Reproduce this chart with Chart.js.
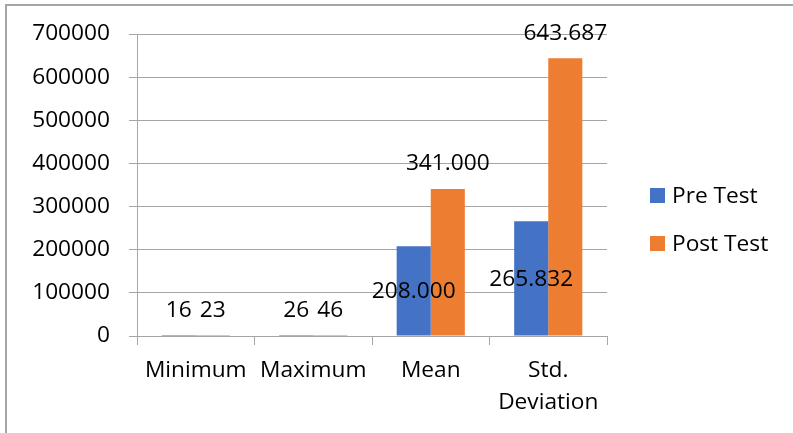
<!DOCTYPE html>
<html>
<head>
<meta charset="utf-8">
<script src="https://cdn.jsdelivr.net/npm/chart.js@4/dist/chart.umd.min.js"></script>
<style>
  html, body { margin: 0; padding: 0; background: #fff; }
  #wrap { width: 793px; height: 433px; position: relative; }
</style>
</head>
<body>
<div id="wrap"><canvas id="c" width="793" height="433"></canvas></div>
<script>
// Descriptive statistics of the two test rounds
const categories = ['Minimum', 'Maximum', 'Mean', ['Std.', 'Deviation']];
const seriesNames = ['Pre Test', 'Post Test'];
const preTest = [16, 26, 208000, 265832];
const postTest = [23, 46, 341000, 643687];
const yTickMin = 0;
const yTickMax = 700000;
const yTickStep = 100000;

const BLUE = '#4472C4';
const ORANGE = '#ED7D31';
const GRID = '#a6a6a6';
const FONT = '"Open Sans", Lato, sans-serif';
const SIZE = 22.7;

// thousands separated with dots: 643687 -> "643.687"
function dotted(n) {
  return String(n).replace(/\B(?=(\d{3})+(?!\d))/g, '.');
}

const frame = {
  id: 'frame',
  beforeDraw(chart) {
    const ctx = chart.ctx;
    ctx.save();
    ctx.fillStyle = '#fff';
    ctx.fillRect(0, 0, chart.width, chart.height);
    ctx.strokeStyle = GRID;
    ctx.lineWidth = 2;
    ctx.beginPath();
    ctx.moveTo(6, chart.height);
    ctx.lineTo(6, 5);
    ctx.lineTo(chart.width, 5);
    ctx.stroke();
    ctx.restore();
  }
};

const valueLabels = {
  id: 'valueLabels',
  afterDatasetsDraw(chart) {
    const ctx = chart.ctx;
    const zeroY = chart.scales.y.getPixelForValue(0);
    ctx.save();
    ctx.font = SIZE + 'px ' + FONT;
    ctx.fillStyle = '#000';
    ctx.textAlign = 'center';
    ctx.textBaseline = 'middle';
    chart.data.datasets.forEach((ds, i) => {
      const meta = chart.getDatasetMeta(i);
      meta.data.forEach((bar, j) => {
        const p = bar.getProps(['x', 'y', 'base'], true);
        let ty;
        if (ds.labelPos === 'center') {
          ty = Math.min((p.y + p.base) / 2 + 1, zeroY - 25);
        } else {
          ty = p.y - 25;
        }
        ctx.fillText(dotted(ds.data[j]), p.x, ty);
      });
    });
    ctx.restore();
  }
};

const sideLegend = {
  id: 'sideLegend',
  afterDraw(chart) {
    const ctx = chart.ctx;
    ctx.save();
    ctx.font = SIZE + 'px ' + FONT;
    ctx.textAlign = 'left';
    ctx.textBaseline = 'middle';
    chart.data.datasets.forEach((ds, i) => {
      const cy = 196 + i * 48;
      ctx.fillStyle = ds.backgroundColor;
      ctx.fillRect(650, cy - 8, 15, 15);
      ctx.fillStyle = '#000';
      ctx.fillText(ds.label, 672, cy + 1);
    });
    ctx.restore();
  }
};

function draw() {
  new Chart(document.getElementById('c'), {
    type: 'bar',
    data: {
      labels: categories,
      datasets: [
        { label: seriesNames[0], data: preTest, backgroundColor: BLUE, labelPos: 'center' },
        { label: seriesNames[1], data: postTest, backgroundColor: ORANGE, labelPos: 'above' }
      ]
    },
    options: {
      responsive: false,
      animation: false,
      devicePixelRatio: 1,
      layout: { padding: { left: 0, top: 34, right: 186, bottom: 0 } },
      datasets: { bar: { categoryPercentage: 0.58, barPercentage: 1 } },
      plugins: { legend: { display: false }, tooltip: { enabled: false } },
      scales: {
        x: {
          z: 1,
          afterFit(s) { s.height = 97; },
          grid: { drawOnChartArea: false, drawTicks: true, tickLength: 9, color: GRID, lineWidth: 1 },
          border: { color: GRID, width: 1 },
          ticks: { color: '#000', font: { family: FONT, size: SIZE, lineHeight: 1.4 }, padding: 10, maxRotation: 0, autoSkip: false }
        },
        y: {
          min: yTickMin,
          max: yTickMax,
          afterFit(s) { s.width = 137; },
          grid: { color: GRID, lineWidth: 1, tickLength: 8 },
          border: { color: GRID, width: 1 },
          ticks: {
            stepSize: yTickStep,
            color: '#000',
            font: { family: FONT, size: SIZE },
            padding: 19,
            callback: (v) => String(v)
          }
        }
      }
    },
    plugins: [frame, valueLabels, sideLegend]
  });
}

if (document.fonts && document.fonts.load) {
  document.fonts.load(SIZE + 'px "Open Sans"').then(draw, draw);
} else {
  draw();
}
</script>
</body>
</html>
